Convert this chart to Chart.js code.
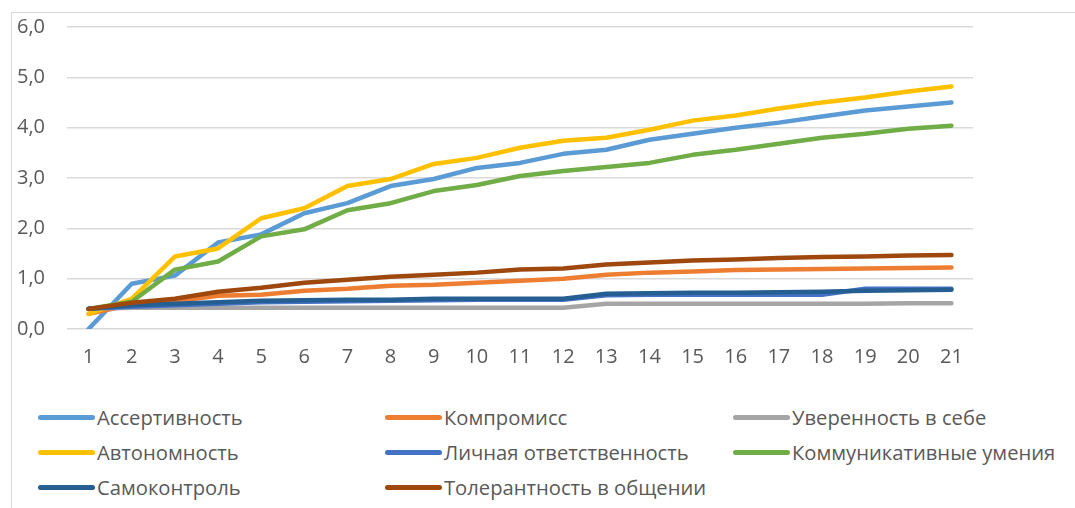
<!DOCTYPE html>
<html>
<head>
<meta charset="utf-8">
<script src="https://cdn.jsdelivr.net/npm/chart.js@4"></script>
<style>
  body { margin: 0; background: #fff; font-family: "Open Sans", sans-serif; }
  #wrap { position: relative; width: 1075px; height: 508px; overflow: hidden; }
  #frame { position: absolute; left: 11px; top: 12px; width: 1100px; height: 520px;
           border-left: 1.5px solid #d9d9d9; border-top: 1.5px solid #d9d9d9; }
  #box { position: absolute; left: 0; top: 0; width: 1075px; height: 377px; }
  .legend-item { position: absolute; height: 24px; display: flex; align-items: center;
                 color: #595959; font-size: 20.2px; white-space: nowrap; }
  .legend-dot { display: inline-block; width: 57px; height: 5px; border-radius: 3px; margin-right: 2px; }
</style>
</head>
<body>
<div id="wrap">
  <div id="frame"></div>
  <div id="box"><canvas id="lineChart"></canvas></div>
  <div class="legend-wrapper"></div>
</div>
<script>
const labels = ["1","2","3","4","5","6","7","8","9","10","11","12","13","14","15","16","17","18","19","20","21"];
const seriesNames = [
  "Ассертивность",
  "Компромисс",
  "Уверенность в себе",
  "Автономность",
  "Личная ответственность",
  "Коммуникативные умения",
  "Самоконтроль",
  "Толерантность в общении",
];
const assertiveness = [0.0, 0.9, 1.06, 1.72, 1.88, 2.3, 2.5, 2.84, 2.98, 3.2, 3.3, 3.48, 3.56, 3.76, 3.88, 4.0, 4.1, 4.22, 4.34, 4.42, 4.5];
const compromise = [0.3, 0.48, 0.55, 0.66, 0.68, 0.76, 0.8, 0.86, 0.88, 0.92, 0.96, 1.0, 1.08, 1.12, 1.14, 1.17, 1.18, 1.19, 1.2, 1.21, 1.22];
const confidence = [0.4, 0.42, 0.42, 0.42, 0.42, 0.42, 0.42, 0.42, 0.42, 0.42, 0.42, 0.42, 0.5, 0.5, 0.5, 0.5, 0.5, 0.5, 0.5, 0.51, 0.51];
const autonomy = [0.3, 0.6, 1.44, 1.6, 2.2, 2.4, 2.84, 2.98, 3.28, 3.4, 3.6, 3.74, 3.8, 3.96, 4.14, 4.24, 4.38, 4.5, 4.6, 4.72, 4.82];
const responsibility = [0.4, 0.44, 0.47, 0.5, 0.53, 0.54, 0.55, 0.56, 0.57, 0.58, 0.58, 0.58, 0.67, 0.68, 0.68, 0.68, 0.68, 0.68, 0.8, 0.8, 0.8];
const communication = [0.4, 0.54, 1.18, 1.34, 1.84, 1.98, 2.36, 2.5, 2.74, 2.86, 3.04, 3.14, 3.22, 3.3, 3.46, 3.56, 3.68, 3.8, 3.88, 3.98, 4.04];
const selfControl = [0.4, 0.47, 0.5, 0.53, 0.56, 0.57, 0.58, 0.58, 0.6, 0.6, 0.6, 0.6, 0.7, 0.71, 0.72, 0.72, 0.73, 0.74, 0.76, 0.77, 0.78];
const tolerance = [0.4, 0.52, 0.6, 0.74, 0.82, 0.92, 0.98, 1.04, 1.08, 1.12, 1.18, 1.2, 1.28, 1.32, 1.36, 1.38, 1.41, 1.43, 1.44, 1.46, 1.47];
const yMin = 0;
const yMax = 6;
const yStep = 1;

const seriesData = [assertiveness, compromise, confidence, autonomy, responsibility, communication, selfControl, tolerance];
const colors = ["#5B9BD5", "#ED7D31", "#A5A5A5", "#FFC000", "#4472C4", "#70AD47", "#255E91", "#9E480E"];

document.addEventListener("DOMContentLoaded", function () {
  const ctx = document.getElementById("lineChart");

  new Chart(ctx, {
    type: "line",
    data: {
      labels: labels,
      datasets: seriesData.map((values, i) => ({
        label: seriesNames[i],
        data: values,
        borderColor: colors[i],
        backgroundColor: colors[i],
        borderWidth: 4.5,
        pointRadius: 0,
        fill: false,
        tension: 0,
        borderCapStyle: "round",
        borderJoinStyle: "round",
        order: seriesData.length - i, // excel draws later series on top
      })),
    },
    options: {
      responsive: true,
      maintainAspectRatio: false,
      animation: false,
      layout: { padding: { top: 27, right: 102, left: 0, bottom: 0 } },
      plugins: {
        legend: { display: false },
        tooltip: { enabled: false },
      },
      scales: {
        x: {
          offset: true,
          grid: { display: false },
          border: { display: false },
          ticks: {
            color: "#595959",
            padding: 8,
            font: { family: "Open Sans", size: 20 },
          },
        },
        y: {
          min: yMin,
          max: yMax,
          afterFit: function (scale) {
            scale.width = 67;
            scale.paddingTop = 0;
            scale.paddingBottom = 0;
          },
          border: { display: false },
          grid: { color: "#d9d9d9", lineWidth: 1.5, drawTicks: false },
          ticks: {
            stepSize: yStep,
            color: "#595959",
            padding: 22,
            font: { family: "Open Sans", size: 20 },
            callback: function (value) {
              return value.toFixed(1).replace(".", ",");
            },
          },
        },
      },
    },
  });

  updateLegend();
});

function updateLegend() {
  const legendContainer = document.querySelector(".legend-wrapper");
  const colX = [38, 385, 733];
  const rowY = [417, 452, 487];
  legendContainer.innerHTML = "";

  seriesNames.forEach((name, index) => {
    const legendItem = document.createElement("div");
    legendItem.classList.add("legend-item");
    legendItem.style.left = colX[index % 3] + "px";
    legendItem.style.top = rowY[Math.floor(index / 3)] - 12 + "px";
    legendItem.innerHTML = `
      <span class="legend-dot" style="background-color: ${colors[index]};"></span>
      <span class="legend-text">${name}</span>
    `;
    legendContainer.appendChild(legendItem);
  });
}
</script>
</body>
</html>
